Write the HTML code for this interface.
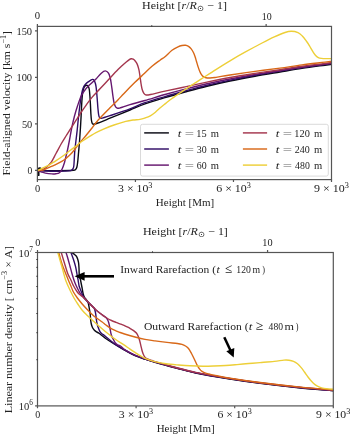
<!DOCTYPE html>
<html><head><meta charset="utf-8"><style>
html,body{margin:0;padding:0;background:#fff;width:350px;height:435px;overflow:hidden}
svg{display:block;font-family:"Liberation Serif",serif;will-change:transform}
</style></head><body>
<svg width="350" height="435" viewBox="0 0 350 435">
<rect width="350" height="435" fill="#fff"/>
<defs><clipPath id="ct"><rect x="37.4" y="26.4" width="294.1" height="153.2"/></clipPath><clipPath id="cb"><rect x="37.5" y="252.5" width="295.8" height="153.39999999999998"/></clipPath></defs>
<g clip-path="url(#ct)" fill="none" stroke-width="1.4" stroke-linejoin="round" stroke-linecap="round">
<path d="M38.7,175.2 L38.7,168.8 Q38.8,168.1 39.6,168.1 L40.6,168.4" stroke-width="1.7" stroke="#0a0a14"/>
<path d="M37.40,170.60 C40.33,170.60 49.57,170.62 55.00,170.60 C60.43,170.58 66.93,170.55 70.00,170.50 C73.07,170.45 72.47,170.48 73.40,170.30 C74.33,170.12 75.02,169.95 75.60,169.40 C76.18,168.85 76.53,168.40 76.90,167.00 C77.27,165.60 77.52,163.50 77.80,161.00 C78.08,158.50 78.33,155.00 78.60,152.00 C78.87,149.00 79.12,146.67 79.40,143.00 C79.68,139.33 80.02,134.43 80.30,130.00 C80.58,125.57 80.87,120.73 81.10,116.40 C81.33,112.07 81.47,107.73 81.70,104.00 C81.93,100.27 82.18,96.58 82.50,94.00 C82.82,91.42 83.18,89.83 83.60,88.50 C84.02,87.17 84.50,86.53 85.00,86.00 C85.50,85.47 86.05,85.25 86.60,85.30 C87.15,85.35 87.85,85.60 88.30,86.30 C88.75,87.00 89.03,87.88 89.30,89.50 C89.57,91.12 89.72,93.58 89.90,96.00 C90.08,98.42 90.23,101.00 90.40,104.00 C90.57,107.00 90.73,111.33 90.90,114.00 C91.07,116.67 91.18,118.47 91.40,120.00 C91.62,121.53 91.88,122.50 92.20,123.20 C92.52,123.90 92.33,124.23 93.30,124.20 C94.27,124.17 95.22,124.00 98.00,123.00 C100.78,122.00 104.67,120.37 110.00,118.20 C115.33,116.03 124.17,112.40 130.00,110.00 C135.83,107.60 139.17,105.87 145.00,103.80 C150.83,101.73 158.33,99.57 165.00,97.60 C171.67,95.63 178.00,93.90 185.00,92.00 C192.00,90.10 199.50,88.03 207.00,86.20 C214.50,84.37 222.00,82.67 230.00,81.00 C238.00,79.33 246.67,77.70 255.00,76.20 C263.33,74.70 272.17,73.30 280.00,72.00 C287.83,70.70 294.50,69.53 302.00,68.40 C309.50,67.27 318.67,66.07 325.00,65.20 C331.33,64.33 337.50,63.53 340.00,63.20" stroke="#0a0a14"/>
<path d="M37.40,170.60 C38.67,170.67 42.07,170.88 45.00,171.00 C47.93,171.12 51.67,171.28 55.00,171.30 C58.33,171.32 62.40,171.22 65.00,171.10 C67.60,170.98 69.33,170.92 70.60,170.60 C71.87,170.28 72.07,169.97 72.60,169.20 C73.13,168.43 73.45,168.87 73.80,166.00 C74.15,163.13 74.37,156.00 74.70,152.00 C75.03,148.00 75.38,145.67 75.80,142.00 C76.22,138.33 76.77,134.00 77.20,130.00 C77.63,126.00 77.97,122.00 78.40,118.00 C78.83,114.00 79.35,109.50 79.80,106.00 C80.25,102.50 80.67,99.58 81.10,97.00 C81.53,94.42 81.93,92.27 82.40,90.50 C82.87,88.73 83.32,87.52 83.90,86.40 C84.48,85.28 85.12,84.60 85.90,83.80 C86.68,83.00 87.50,82.33 88.60,81.60 C89.70,80.87 91.55,79.57 92.50,79.40 C93.45,79.23 93.82,79.92 94.30,80.60 C94.78,81.28 95.10,82.43 95.40,83.50 C95.70,84.57 95.87,85.25 96.10,87.00 C96.33,88.75 96.60,91.83 96.80,94.00 C97.00,96.17 97.12,97.67 97.30,100.00 C97.48,102.33 97.68,105.58 97.90,108.00 C98.12,110.42 98.33,112.92 98.60,114.50 C98.87,116.08 99.13,116.85 99.50,117.50 C99.87,118.15 100.22,118.35 100.80,118.40 C101.38,118.45 101.47,118.25 103.00,117.80 C104.53,117.35 105.50,117.18 110.00,115.70 C114.50,114.22 124.17,111.07 130.00,108.90 C135.83,106.73 139.17,104.75 145.00,102.70 C150.83,100.65 158.33,98.55 165.00,96.60 C171.67,94.65 178.00,92.90 185.00,91.00 C192.00,89.10 199.50,87.02 207.00,85.20 C214.50,83.38 222.00,81.77 230.00,80.10 C238.00,78.43 246.67,76.72 255.00,75.20 C263.33,73.68 272.17,72.28 280.00,71.00 C287.83,69.72 294.50,68.62 302.00,67.50 C309.50,66.38 318.67,65.17 325.00,64.30 C331.33,63.43 337.50,62.63 340.00,62.30" stroke="#300c66"/>
<path d="M37.40,170.60 C38.00,170.80 39.68,171.38 41.00,171.80 C42.32,172.22 43.48,172.75 45.30,173.10 C47.12,173.45 50.12,173.80 51.90,173.90 C53.68,174.00 54.75,173.90 56.00,173.70 C57.25,173.50 58.40,173.45 59.40,172.70 C60.40,171.95 61.15,170.90 62.00,169.20 C62.85,167.50 63.78,164.87 64.50,162.50 C65.22,160.13 65.80,157.08 66.30,155.00 C66.80,152.92 66.97,152.50 67.50,150.00 C68.03,147.50 68.80,143.67 69.50,140.00 C70.20,136.33 70.87,132.00 71.70,128.00 C72.53,124.00 73.53,119.67 74.50,116.00 C75.47,112.33 76.38,109.33 77.50,106.00 C78.62,102.67 79.95,98.67 81.20,96.00 C82.45,93.33 83.78,91.67 85.00,90.00 C86.22,88.33 87.33,87.20 88.50,86.00 C89.67,84.80 90.75,83.97 92.00,82.80 C93.25,81.63 94.45,80.60 96.00,79.00 C97.55,77.40 99.75,74.55 101.30,73.20 C102.85,71.85 104.10,70.90 105.30,70.90 C106.50,70.90 107.67,71.97 108.50,73.20 C109.33,74.43 109.83,76.50 110.30,78.30 C110.77,80.10 111.00,82.10 111.30,84.00 C111.60,85.90 111.82,87.62 112.10,89.70 C112.38,91.78 112.68,94.37 113.00,96.50 C113.32,98.63 113.60,100.83 114.00,102.50 C114.40,104.17 114.87,105.57 115.40,106.50 C115.93,107.43 116.52,107.83 117.20,108.10 C117.88,108.37 118.37,108.35 119.50,108.10 C120.63,107.85 122.25,107.18 124.00,106.60 C125.75,106.02 126.50,105.62 130.00,104.60 C133.50,103.58 139.17,102.18 145.00,100.50 C150.83,98.82 158.33,96.40 165.00,94.50 C171.67,92.60 178.00,90.90 185.00,89.10 C192.00,87.30 199.50,85.38 207.00,83.70 C214.50,82.02 222.00,80.53 230.00,79.00 C238.00,77.47 246.67,75.88 255.00,74.50 C263.33,73.12 272.17,71.90 280.00,70.70 C287.83,69.50 294.50,68.38 302.00,67.30 C309.50,66.22 318.67,65.05 325.00,64.20 C331.33,63.35 337.50,62.53 340.00,62.20" stroke="#66176f"/>
<path d="M37.40,170.60 C38.00,170.53 39.68,170.62 41.00,170.20 C42.32,169.78 43.62,169.40 45.30,168.10 C46.98,166.80 49.32,164.83 51.10,162.40 C52.88,159.97 54.28,156.65 56.00,153.50 C57.72,150.35 59.73,146.42 61.40,143.50 C63.07,140.58 64.57,138.30 66.00,136.00 C67.43,133.70 68.32,132.33 70.00,129.70 C71.68,127.07 74.27,123.07 76.10,120.20 C77.93,117.33 79.35,114.98 81.00,112.50 C82.65,110.02 84.17,107.82 86.00,105.30 C87.83,102.78 89.67,100.15 92.00,97.40 C94.33,94.65 97.00,92.03 100.00,88.80 C103.00,85.57 107.00,81.22 110.00,78.00 C113.00,74.78 116.00,71.55 118.00,69.50 C120.00,67.45 120.67,66.92 122.00,65.70 C123.33,64.48 124.83,63.18 126.00,62.20 C127.17,61.22 128.13,60.38 129.00,59.80 C129.87,59.22 130.50,58.80 131.20,58.70 C131.90,58.60 132.57,58.85 133.20,59.20 C133.83,59.55 134.33,59.98 135.00,60.80 C135.67,61.62 136.55,62.62 137.20,64.10 C137.85,65.58 138.43,67.67 138.90,69.70 C139.37,71.73 139.63,73.92 140.00,76.30 C140.37,78.68 140.73,81.80 141.10,84.00 C141.47,86.20 141.73,87.93 142.20,89.50 C142.67,91.07 143.25,92.48 143.90,93.40 C144.55,94.32 145.00,94.82 146.10,95.00 C147.20,95.18 147.35,95.15 150.50,94.50 C153.65,93.85 159.25,92.37 165.00,91.10 C170.75,89.83 178.00,88.40 185.00,86.90 C192.00,85.40 199.50,83.67 207.00,82.10 C214.50,80.53 222.00,78.95 230.00,77.50 C238.00,76.05 246.67,74.70 255.00,73.40 C263.33,72.10 272.17,70.88 280.00,69.70 C287.83,68.52 294.50,67.35 302.00,66.30 C309.50,65.25 318.67,64.22 325.00,63.40 C331.33,62.58 337.50,61.73 340.00,61.40" stroke="#a4364e"/>
<path d="M37.40,170.60 C38.33,170.50 41.00,170.55 43.00,170.00 C45.00,169.45 47.40,168.17 49.40,167.30 C51.40,166.43 52.93,165.78 55.00,164.80 C57.07,163.82 59.97,162.47 61.80,161.40 C63.63,160.33 64.58,159.53 66.00,158.40 C67.42,157.27 68.82,156.13 70.30,154.60 C71.78,153.07 73.23,151.28 74.90,149.20 C76.57,147.12 78.45,144.38 80.30,142.10 C82.15,139.82 84.22,137.63 86.00,135.50 C87.78,133.37 89.00,131.83 91.00,129.30 C93.00,126.77 94.83,123.88 98.00,120.30 C101.17,116.72 106.65,111.23 110.00,107.80 C113.35,104.37 115.77,102.10 118.10,99.70 C120.43,97.30 121.23,96.25 124.00,93.40 C126.77,90.55 131.37,85.87 134.70,82.60 C138.03,79.33 141.12,76.52 144.00,73.80 C146.88,71.08 149.33,68.57 152.00,66.30 C154.67,64.03 157.83,61.80 160.00,60.20 C162.17,58.60 163.00,58.35 165.00,56.70 C167.00,55.05 169.83,51.95 172.00,50.30 C174.17,48.65 176.33,47.60 178.00,46.80 C179.67,46.00 180.75,45.75 182.00,45.50 C183.25,45.25 184.42,45.17 185.50,45.30 C186.58,45.43 187.58,45.75 188.50,46.30 C189.42,46.85 190.20,47.60 191.00,48.60 C191.80,49.60 192.63,50.98 193.30,52.30 C193.97,53.62 194.47,54.97 195.00,56.50 C195.53,58.03 196.00,59.83 196.50,61.50 C197.00,63.17 197.48,64.92 198.00,66.50 C198.52,68.08 199.05,69.70 199.60,71.00 C200.15,72.30 200.68,73.37 201.30,74.30 C201.92,75.23 202.52,76.02 203.30,76.60 C204.08,77.18 204.88,77.57 206.00,77.80 C207.12,78.03 208.50,78.05 210.00,78.00 C211.50,77.95 213.33,77.73 215.00,77.50 C216.67,77.27 217.50,77.02 220.00,76.60 C222.50,76.18 224.17,75.87 230.00,75.00 C235.83,74.13 246.67,72.55 255.00,71.40 C263.33,70.25 272.17,69.18 280.00,68.10 C287.83,67.02 294.50,65.90 302.00,64.90 C309.50,63.90 318.67,62.88 325.00,62.10 C331.33,61.32 337.50,60.52 340.00,60.20" stroke="#d86818"/>
<path d="M37.40,170.60 C38.33,170.17 41.00,168.97 43.00,168.00 C45.00,167.03 47.40,165.92 49.40,164.80 C51.40,163.68 52.93,162.63 55.00,161.30 C57.07,159.97 59.28,158.60 61.80,156.80 C64.32,155.00 67.90,152.15 70.10,150.50 C72.30,148.85 73.35,148.18 75.00,146.90 C76.65,145.62 78.33,144.05 80.00,142.80 C81.67,141.55 83.33,140.50 85.00,139.40 C86.67,138.30 88.17,137.33 90.00,136.20 C91.83,135.07 93.85,133.73 96.00,132.60 C98.15,131.47 99.90,130.67 102.90,129.40 C105.90,128.13 110.20,126.33 114.00,125.00 C117.80,123.67 122.53,122.23 125.70,121.40 C128.87,120.57 130.62,120.33 133.00,120.00 C135.38,119.67 138.00,119.73 140.00,119.40 C142.00,119.07 143.28,118.60 145.00,118.00 C146.72,117.40 148.57,116.77 150.30,115.80 C152.03,114.83 153.68,113.58 155.40,112.20 C157.12,110.82 158.88,108.97 160.60,107.50 C162.32,106.03 163.98,104.77 165.70,103.40 C167.42,102.03 169.18,100.58 170.90,99.30 C172.62,98.02 172.65,97.98 176.00,95.70 C179.35,93.42 186.83,88.35 191.00,85.60 C195.17,82.85 196.92,81.83 201.00,79.20 C205.08,76.57 210.67,72.87 215.50,69.80 C220.33,66.73 225.08,63.73 230.00,60.80 C234.92,57.87 239.65,55.17 245.00,52.20 C250.35,49.23 257.22,45.55 262.10,43.00 C266.98,40.45 270.48,38.65 274.30,36.90 C278.12,35.15 282.17,33.43 285.00,32.50 C287.83,31.57 289.13,31.28 291.30,31.30 C293.47,31.32 296.17,31.82 298.00,32.60 C299.83,33.38 300.92,34.60 302.30,36.00 C303.68,37.40 305.10,39.37 306.30,41.00 C307.50,42.63 308.45,44.10 309.50,45.80 C310.55,47.50 311.62,49.62 312.60,51.20 C313.58,52.78 314.45,54.23 315.40,55.30 C316.35,56.37 317.28,57.08 318.30,57.60 C319.32,58.12 320.22,58.23 321.50,58.40 C322.78,58.57 322.92,58.57 326.00,58.60 C329.08,58.63 337.67,58.60 340.00,58.60" stroke="#edcf38"/>
</g>
<g clip-path="url(#cb)" fill="none" stroke-width="1.4" stroke-linejoin="round" stroke-linecap="round">
<path d="M68.80,247.00 C69.35,247.92 71.15,251.25 72.10,252.50 C73.05,253.75 73.77,253.85 74.50,254.50 C75.23,255.15 75.95,255.57 76.50,256.40 C77.05,257.23 77.45,258.40 77.80,259.50 C78.15,260.60 78.40,261.58 78.60,263.00 C78.80,264.42 78.90,266.17 79.00,268.00 C79.10,269.83 79.10,272.50 79.20,274.00 C79.30,275.50 79.38,276.00 79.60,277.00 C79.82,278.00 80.25,279.00 80.50,280.00 C80.75,281.00 80.90,282.00 81.10,283.00 C81.30,284.00 81.50,285.00 81.70,286.00 C81.90,287.00 82.12,288.00 82.30,289.00 C82.48,290.00 82.60,291.00 82.80,292.00 C83.00,293.00 83.20,294.07 83.50,295.00 C83.80,295.93 84.10,296.78 84.60,297.60 C85.10,298.42 86.02,299.25 86.50,299.90 C86.98,300.55 87.17,300.82 87.50,301.50 C87.83,302.18 88.20,302.83 88.50,304.00 C88.80,305.17 89.02,306.83 89.30,308.50 C89.58,310.17 89.98,312.17 90.20,314.00 C90.42,315.83 90.42,317.83 90.60,319.50 C90.78,321.17 90.97,322.62 91.30,324.00 C91.63,325.38 92.08,326.77 92.60,327.80 C93.12,328.83 93.75,329.53 94.40,330.20 C95.05,330.87 95.73,331.28 96.50,331.80 C97.27,332.32 97.58,332.27 99.00,333.30 C100.42,334.33 102.33,336.15 105.00,338.00 C107.67,339.85 111.67,342.35 115.00,344.40 C118.33,346.45 121.67,348.43 125.00,350.30 C128.33,352.17 131.67,354.12 135.00,355.60 C138.33,357.08 141.67,358.08 145.00,359.20 C148.33,360.32 150.35,360.95 155.00,362.30 C159.65,363.65 166.12,365.52 172.90,367.30 C179.68,369.08 186.18,371.05 195.70,373.00 C205.22,374.95 219.28,377.28 230.00,379.00 C240.72,380.72 248.58,381.85 260.00,383.30 C271.42,384.75 286.28,386.45 298.50,387.70 C310.72,388.95 325.55,390.08 333.30,390.80 C341.05,391.52 343.05,391.80 345.00,392.00" stroke="#0a0a14"/>
<path d="M68.50,247.00 C68.90,247.92 70.10,250.50 70.90,252.50 C71.70,254.50 72.53,256.70 73.30,259.00 C74.07,261.30 74.95,264.13 75.50,266.30 C76.05,268.47 76.27,270.22 76.60,272.00 C76.93,273.78 77.25,275.67 77.50,277.00 C77.75,278.33 77.92,279.00 78.10,280.00 C78.28,281.00 78.43,282.00 78.60,283.00 C78.77,284.00 78.83,285.00 79.10,286.00 C79.37,287.00 79.82,288.00 80.20,289.00 C80.58,290.00 81.00,291.00 81.40,292.00 C81.80,293.00 82.17,294.08 82.60,295.00 C83.03,295.92 83.27,296.52 84.00,297.50 C84.73,298.48 86.00,299.83 87.00,300.90 C88.00,301.97 89.00,302.88 90.00,303.90 C91.00,304.92 92.28,306.25 93.00,307.00 C93.72,307.75 93.92,307.60 94.30,308.40 C94.68,309.20 95.03,310.62 95.30,311.80 C95.57,312.98 95.70,314.05 95.90,315.50 C96.10,316.95 96.25,318.92 96.50,320.50 C96.75,322.08 97.02,323.58 97.40,325.00 C97.78,326.42 98.32,327.80 98.80,329.00 C99.28,330.20 99.68,331.32 100.30,332.20 C100.92,333.08 101.80,333.73 102.50,334.30 C103.20,334.87 102.42,333.95 104.50,335.60 C106.58,337.25 111.58,341.78 115.00,344.20 C118.42,346.62 121.67,348.23 125.00,350.10 C128.33,351.97 131.67,353.92 135.00,355.40 C138.33,356.88 141.67,357.88 145.00,359.00 C148.33,360.12 150.35,360.75 155.00,362.10 C159.65,363.45 166.12,365.32 172.90,367.10 C179.68,368.88 186.18,370.85 195.70,372.80 C205.22,374.75 219.28,377.08 230.00,378.80 C240.72,380.52 248.58,381.65 260.00,383.10 C271.42,384.55 286.28,386.25 298.50,387.50 C310.72,388.75 325.55,389.88 333.30,390.60 C341.05,391.32 343.05,391.60 345.00,391.80" stroke="#300c66"/>
<path d="M63.50,247.00 C63.92,247.92 65.25,250.50 66.00,252.50 C66.75,254.50 67.33,256.70 68.00,259.00 C68.67,261.30 69.32,263.80 70.00,266.30 C70.68,268.80 71.45,271.72 72.10,274.00 C72.75,276.28 73.20,278.00 73.90,280.00 C74.60,282.00 75.38,284.00 76.30,286.00 C77.22,288.00 78.52,290.47 79.40,292.00 C80.28,293.53 80.90,294.30 81.60,295.20 C82.30,296.10 82.70,296.45 83.60,297.40 C84.50,298.35 85.93,299.82 87.00,300.90 C88.07,301.98 89.00,302.88 90.00,303.90 C91.00,304.92 92.00,305.98 93.00,307.00 C94.00,308.02 94.88,309.00 96.00,310.00 C97.12,311.00 98.43,312.02 99.70,313.00 C100.97,313.98 102.55,315.13 103.60,315.90 C104.65,316.67 105.33,316.95 106.00,317.60 C106.67,318.25 107.13,318.90 107.60,319.80 C108.07,320.70 108.45,321.80 108.80,323.00 C109.15,324.20 109.42,325.63 109.70,327.00 C109.98,328.37 110.20,329.78 110.50,331.20 C110.80,332.62 111.02,334.12 111.50,335.50 C111.98,336.88 112.78,338.28 113.40,339.50 C114.02,340.72 114.52,341.92 115.20,342.80 C115.88,343.68 116.62,344.27 117.50,344.80 C118.38,345.33 119.25,345.15 120.50,346.00 C121.75,346.85 122.58,348.37 125.00,349.90 C127.42,351.43 131.67,353.72 135.00,355.20 C138.33,356.68 141.67,357.68 145.00,358.80 C148.33,359.92 150.35,360.55 155.00,361.90 C159.65,363.25 166.12,365.12 172.90,366.90 C179.68,368.68 186.18,370.65 195.70,372.60 C205.22,374.55 219.28,376.88 230.00,378.60 C240.72,380.32 248.58,381.45 260.00,382.90 C271.42,384.35 286.28,386.05 298.50,387.30 C310.72,388.55 325.55,389.68 333.30,390.40 C341.05,391.12 343.05,391.40 345.00,391.60" stroke="#66176f"/>
<path d="M58.90,247.00 C59.28,247.92 60.48,250.50 61.20,252.50 C61.92,254.50 62.50,256.70 63.20,259.00 C63.90,261.30 64.62,263.80 65.40,266.30 C66.18,268.80 66.98,271.72 67.90,274.00 C68.82,276.28 69.95,278.00 70.90,280.00 C71.85,282.00 72.53,284.00 73.60,286.00 C74.67,288.00 76.13,290.45 77.30,292.00 C78.47,293.55 79.62,294.42 80.60,295.30 C81.58,296.18 82.13,296.37 83.20,297.30 C84.27,298.23 85.87,299.80 87.00,300.90 C88.13,302.00 89.00,302.88 90.00,303.90 C91.00,304.92 92.00,305.98 93.00,307.00 C94.00,308.02 94.88,309.00 96.00,310.00 C97.12,311.00 98.43,312.02 99.70,313.00 C100.97,313.98 102.30,314.98 103.60,315.90 C104.90,316.82 106.18,317.73 107.50,318.50 C108.82,319.27 110.08,319.87 111.50,320.50 C112.92,321.13 114.58,321.75 116.00,322.30 C117.42,322.85 118.67,323.28 120.00,323.80 C121.33,324.32 122.70,324.83 124.00,325.40 C125.30,325.97 126.67,326.62 127.80,327.20 C128.93,327.78 129.83,328.33 130.80,328.90 C131.77,329.47 132.67,329.92 133.60,330.60 C134.53,331.28 135.62,332.02 136.40,333.00 C137.18,333.98 137.75,335.22 138.30,336.50 C138.85,337.78 139.28,339.22 139.70,340.70 C140.12,342.18 140.43,343.85 140.80,345.40 C141.17,346.95 141.52,348.60 141.90,350.00 C142.28,351.40 142.63,352.67 143.10,353.80 C143.57,354.93 144.10,356.00 144.70,356.80 C145.30,357.60 145.90,358.12 146.70,358.60 C147.50,359.08 148.62,359.38 149.50,359.70 C150.38,360.02 151.08,360.17 152.00,360.50 C152.92,360.83 151.52,360.67 155.00,361.70 C158.48,362.73 166.12,364.92 172.90,366.70 C179.68,368.48 186.18,370.45 195.70,372.40 C205.22,374.35 219.28,376.68 230.00,378.40 C240.72,380.12 248.58,381.25 260.00,382.70 C271.42,384.15 286.28,385.85 298.50,387.10 C310.72,388.35 325.55,389.48 333.30,390.20 C341.05,390.92 343.05,391.20 345.00,391.40" stroke="#a4364e"/>
<path d="M56.60,247.00 C56.95,247.92 58.03,250.42 58.70,252.50 C59.37,254.58 59.92,257.20 60.60,259.50 C61.28,261.80 61.98,264.05 62.80,266.30 C63.62,268.55 64.58,270.72 65.50,273.00 C66.42,275.28 67.40,277.83 68.30,280.00 C69.20,282.17 70.05,284.00 70.90,286.00 C71.75,288.00 72.32,290.00 73.40,292.00 C74.48,294.00 75.93,296.00 77.40,298.00 C78.87,300.00 80.48,302.00 82.20,304.00 C83.92,306.00 85.77,308.00 87.70,310.00 C89.63,312.00 92.08,314.50 93.80,316.00 C95.52,317.50 96.60,318.00 98.00,319.00 C99.40,320.00 100.87,321.00 102.20,322.00 C103.53,323.00 104.70,324.03 106.00,325.00 C107.30,325.97 108.50,326.90 110.00,327.80 C111.50,328.70 113.47,329.68 115.00,330.40 C116.53,331.12 117.62,331.50 119.20,332.10 C120.78,332.70 121.87,333.18 124.50,334.00 C127.13,334.82 131.58,336.10 135.00,337.00 C138.42,337.90 141.67,338.75 145.00,339.40 C148.33,340.05 151.33,340.40 155.00,340.90 C158.67,341.40 163.27,341.97 167.00,342.40 C170.73,342.83 174.90,343.17 177.40,343.50 C179.90,343.83 180.65,343.98 182.00,344.40 C183.35,344.82 184.42,345.32 185.50,346.00 C186.58,346.68 187.50,347.25 188.50,348.50 C189.50,349.75 190.48,351.63 191.50,353.50 C192.52,355.37 193.68,357.82 194.60,359.70 C195.52,361.58 196.18,363.28 197.00,364.80 C197.82,366.32 198.67,367.70 199.50,368.80 C200.33,369.90 201.08,370.72 202.00,371.40 C202.92,372.08 203.83,372.47 205.00,372.90 C206.17,373.33 207.50,373.63 209.00,374.00 C210.50,374.37 210.50,374.40 214.00,375.10 C217.50,375.80 222.33,376.97 230.00,378.20 C237.67,379.43 248.58,381.05 260.00,382.50 C271.42,383.95 286.28,385.65 298.50,386.90 C310.72,388.15 325.55,389.28 333.30,390.00 C341.05,390.72 343.05,391.00 345.00,391.20" stroke="#d86818"/>
<path d="M55.50,247.00 C55.88,247.92 57.08,250.42 57.80,252.50 C58.52,254.58 59.13,257.20 59.80,259.50 C60.47,261.80 61.17,264.05 61.80,266.30 C62.43,268.55 62.97,270.72 63.60,273.00 C64.23,275.28 64.85,277.83 65.60,280.00 C66.35,282.17 67.22,284.00 68.10,286.00 C68.98,288.00 69.92,290.00 70.90,292.00 C71.88,294.00 72.85,296.00 74.00,298.00 C75.15,300.00 76.47,302.00 77.80,304.00 C79.13,306.00 80.42,308.08 82.00,310.00 C83.58,311.92 85.60,313.83 87.30,315.50 C89.00,317.17 90.42,318.37 92.20,320.00 C93.98,321.63 95.87,323.43 98.00,325.30 C100.13,327.17 102.17,328.92 105.00,331.20 C107.83,333.48 111.90,336.75 115.00,339.00 C118.10,341.25 121.10,343.02 123.60,344.70 C126.10,346.38 128.10,347.82 130.00,349.10 C131.90,350.38 133.17,351.22 135.00,352.40 C136.83,353.58 139.00,355.07 141.00,356.20 C143.00,357.33 144.55,358.25 147.00,359.20 C149.45,360.15 152.53,361.13 155.70,361.90 C158.87,362.67 162.18,363.28 166.00,363.80 C169.82,364.32 174.60,364.67 178.60,365.00 C182.60,365.33 185.95,365.60 190.00,365.80 C194.05,366.00 198.90,366.17 202.90,366.20 C206.90,366.23 210.20,366.12 214.00,366.00 C217.80,365.88 221.87,365.73 225.70,365.50 C229.53,365.27 233.18,364.93 237.00,364.60 C240.82,364.27 244.77,363.83 248.60,363.50 C252.43,363.17 255.72,362.95 260.00,362.60 C264.28,362.25 270.30,361.82 274.30,361.40 C278.30,360.98 281.55,360.30 284.00,360.10 C286.45,359.90 287.42,360.00 289.00,360.20 C290.58,360.40 292.08,360.70 293.50,361.30 C294.92,361.90 296.25,362.78 297.50,363.80 C298.75,364.82 299.83,366.03 301.00,367.40 C302.17,368.77 303.33,370.40 304.50,372.00 C305.67,373.60 306.83,375.45 308.00,377.00 C309.17,378.55 310.33,380.03 311.50,381.30 C312.67,382.57 313.75,383.67 315.00,384.60 C316.25,385.53 317.50,386.27 319.00,386.90 C320.50,387.53 321.62,388.00 324.00,388.40 C326.38,388.80 329.80,389.12 333.30,389.30 C336.80,389.48 343.05,389.47 345.00,389.50" stroke="#edcf38"/>
</g>
<rect x="37.40" y="26.40" width="294.10" height="153.20" fill="none" stroke="#555" stroke-width="1.2"/>
<rect x="37.50" y="252.50" width="295.80" height="153.40" fill="none" stroke="#555" stroke-width="1.2"/>
<path d="M37.40,179.60v2.40 M135.43,179.60v2.40 M233.47,179.60v2.40 M331.50,179.60v2.40 M37.40,26.40v-2.40 M266.14,26.40v-2.40 M37.40,170.40h-2.40 M37.40,123.87h-2.40 M37.40,77.33h-2.40 M37.40,30.80h-2.40 M37.50,405.90v2.40 M136.10,405.90v2.40 M234.70,405.90v2.40 M333.30,405.90v2.40 M37.50,252.50v-2.40 M267.57,252.50v-2.40 M37.50,252.50h-2.40 M37.50,405.90h-2.40" stroke="#555" stroke-width="1.2" fill="none"/>
<path d="M151.77,26.40v-1.40 M152.53,252.50v-1.40 M37.50,359.72h-1.40 M37.50,332.71h-1.40 M37.50,313.54h-1.40 M37.50,298.68h-1.40 M37.50,286.53h-1.40 M37.50,276.26h-1.40 M37.50,267.37h-1.40 M37.50,259.52h-1.40" stroke="#000" stroke-width="0.6" fill="none"/>
<rect x="140.5" y="124.3" width="187.8" height="51.8" rx="2" ry="2" fill="#fff" fill-opacity="0.8" stroke="#d0d0d0" stroke-width="0.8"/>
<path d="M144.2,132.9 H168.9" stroke="#0a0a14" stroke-width="1.45"/>
<path d="M144.2,149.0 H168.9" stroke="#300c66" stroke-width="1.45"/>
<path d="M144.2,165.1 H168.9" stroke="#66176f" stroke-width="1.45"/>
<path d="M242.9,132.9 H267.1" stroke="#a4364e" stroke-width="1.45"/>
<path d="M242.9,149.0 H267.1" stroke="#d86818" stroke-width="1.45"/>
<path d="M242.9,165.1 H267.1" stroke="#edcf38" stroke-width="1.45"/>
<g font-family="Liberation Serif, serif" fill="#222" opacity="0.995">
<text x="142.03" y="8.90" font-size="11.4" textLength="84.94" lengthAdjust="spacingAndGlyphs">Height [<tspan font-style="italic">r</tspan>/<tspan font-style="italic">R</tspan><tspan dy="2.2" font-size="7.9">⊙</tspan><tspan dy="-2.2"> − 1]</tspan></text>
<text x="34.87" y="19.40" font-size="11.4" textLength="5.35" lengthAdjust="spacingAndGlyphs">0</text>
<text x="261.68" y="19.50" font-size="11.4" textLength="9.92" lengthAdjust="spacingAndGlyphs">10</text>
<text x="16.43" y="35.00" font-size="11.4" textLength="15.68" lengthAdjust="spacingAndGlyphs">150</text>
<text x="16.43" y="81.30" font-size="11.4" textLength="15.68" lengthAdjust="spacingAndGlyphs">100</text>
<text x="21.91" y="127.80" font-size="11.4" textLength="10.40" lengthAdjust="spacingAndGlyphs">50</text>
<text x="27.52" y="174.10" font-size="11.4" textLength="4.77" lengthAdjust="spacingAndGlyphs">0</text>
<text x="34.98" y="192.30" font-size="11.4" textLength="5.23" lengthAdjust="spacingAndGlyphs">0</text>
<text x="118.13" y="192.20" font-size="11.4" textLength="34.31" lengthAdjust="spacingAndGlyphs">3 × 10<tspan dy="-4.4" font-size="7.9">3</tspan></text>
<text x="216.23" y="192.20" font-size="11.4" textLength="34.72" lengthAdjust="spacingAndGlyphs">6 × 10<tspan dy="-4.4" font-size="7.9">3</tspan></text>
<text x="314.13" y="192.20" font-size="11.4" textLength="34.81" lengthAdjust="spacingAndGlyphs">9 × 10<tspan dy="-4.4" font-size="7.9">3</tspan></text>
<text x="155.86" y="205.90" font-size="11.4" textLength="58.23" lengthAdjust="spacingAndGlyphs">Height [Mm]</text>
<text x="142.93" y="235.00" font-size="11.4" textLength="84.94" lengthAdjust="spacingAndGlyphs">Height [<tspan font-style="italic">r</tspan>/<tspan font-style="italic">R</tspan><tspan dy="2.2" font-size="7.9">⊙</tspan><tspan dy="-2.2"> − 1]</tspan></text>
<text x="35.19" y="246.00" font-size="11.4" textLength="5.12" lengthAdjust="spacingAndGlyphs">0</text>
<text x="262.35" y="246.00" font-size="11.4" textLength="10.26" lengthAdjust="spacingAndGlyphs">10</text>
<text x="18.61" y="256.80" font-size="11.4" textLength="14.48" lengthAdjust="spacingAndGlyphs">10<tspan dy="-4.6" font-size="7.9">7</tspan></text>
<text x="18.63" y="409.90" font-size="11.4" textLength="14.15" lengthAdjust="spacingAndGlyphs">10<tspan dy="-4.6" font-size="7.9">6</tspan></text>
<text x="35.20" y="418.40" font-size="11.4" textLength="5.00" lengthAdjust="spacingAndGlyphs">0</text>
<text x="118.83" y="418.30" font-size="11.4" textLength="34.31" lengthAdjust="spacingAndGlyphs">3 × 10<tspan dy="-4.4" font-size="7.9">3</tspan></text>
<text x="217.43" y="418.30" font-size="11.4" textLength="34.31" lengthAdjust="spacingAndGlyphs">6 × 10<tspan dy="-4.4" font-size="7.9">3</tspan></text>
<text x="316.14" y="418.30" font-size="11.4" textLength="34.20" lengthAdjust="spacingAndGlyphs">9 × 10<tspan dy="-4.4" font-size="7.9">3</tspan></text>
<text x="156.66" y="432.30" font-size="11.4" textLength="58.13" lengthAdjust="spacingAndGlyphs">Height [Mm]</text>
<text x="120.25" y="272.90" font-size="11.4" textLength="95.76" lengthAdjust="spacingAndGlyphs">Inward Rarefaction (</text>
<text x="216.43" y="272.90" font-size="11.4" textLength="3.28" lengthAdjust="spacingAndGlyphs"><tspan font-style="italic">t</tspan></text>
<text x="224.97" y="273.30" font-size="13.5" textLength="7.17" lengthAdjust="spacingAndGlyphs">≤</text>
<text x="236.30" y="272.90" font-size="11.4" textLength="14.59" lengthAdjust="spacingAndGlyphs">120</text>
<text x="252.48" y="272.90" font-size="11.4" textLength="7.62" lengthAdjust="spacingAndGlyphs">m</text>
<text x="262.26" y="272.90" font-size="11.4" textLength="2.75" lengthAdjust="spacingAndGlyphs">)</text>
<text x="143.94" y="329.60" font-size="11.4" textLength="104.67" lengthAdjust="spacingAndGlyphs">Outward Rarefaction (</text>
<text x="248.78" y="329.60" font-size="11.4" textLength="3.61" lengthAdjust="spacingAndGlyphs"><tspan font-style="italic">t</tspan></text>
<text x="255.75" y="330.00" font-size="13.5" textLength="7.41" lengthAdjust="spacingAndGlyphs">≥</text>
<text x="268.58" y="329.60" font-size="11.4" textLength="14.41" lengthAdjust="spacingAndGlyphs">480</text>
<text x="284.54" y="329.60" font-size="11.4" textLength="9.49" lengthAdjust="spacingAndGlyphs">m</text>
<text x="295.66" y="329.60" font-size="11.4" textLength="2.75" lengthAdjust="spacingAndGlyphs">)</text>
<text x="177.68" y="137.10" font-size="11.4" textLength="3.61" lengthAdjust="spacingAndGlyphs"><tspan font-style="italic">t</tspan></text>
<text x="184.68" y="137.10" font-size="11.4" textLength="9.34" lengthAdjust="spacingAndGlyphs" fill="#666">=</text>
<text x="196.34" y="137.10" font-size="11.4" textLength="10.37" lengthAdjust="spacingAndGlyphs">15</text>
<text x="210.86" y="137.10" font-size="11.4" textLength="8.24" lengthAdjust="spacingAndGlyphs">m</text>
<text x="177.68" y="153.20" font-size="11.4" textLength="3.61" lengthAdjust="spacingAndGlyphs"><tspan font-style="italic">t</tspan></text>
<text x="184.68" y="153.20" font-size="11.4" textLength="9.34" lengthAdjust="spacingAndGlyphs" fill="#666">=</text>
<text x="196.82" y="153.20" font-size="11.4" textLength="9.88" lengthAdjust="spacingAndGlyphs">30</text>
<text x="210.86" y="153.20" font-size="11.4" textLength="8.24" lengthAdjust="spacingAndGlyphs">m</text>
<text x="177.68" y="169.30" font-size="11.4" textLength="3.61" lengthAdjust="spacingAndGlyphs"><tspan font-style="italic">t</tspan></text>
<text x="184.68" y="169.30" font-size="11.4" textLength="9.34" lengthAdjust="spacingAndGlyphs" fill="#666">=</text>
<text x="196.82" y="169.30" font-size="11.4" textLength="9.88" lengthAdjust="spacingAndGlyphs">60</text>
<text x="210.86" y="169.30" font-size="11.4" textLength="8.24" lengthAdjust="spacingAndGlyphs">m</text>
<text x="275.68" y="137.10" font-size="11.4" textLength="3.61" lengthAdjust="spacingAndGlyphs"><tspan font-style="italic">t</tspan></text>
<text x="282.68" y="137.10" font-size="11.4" textLength="9.34" lengthAdjust="spacingAndGlyphs" fill="#666">=</text>
<text x="294.35" y="137.10" font-size="11.4" textLength="15.47" lengthAdjust="spacingAndGlyphs">120</text>
<text x="313.96" y="137.10" font-size="11.4" textLength="8.24" lengthAdjust="spacingAndGlyphs">m</text>
<text x="275.68" y="153.20" font-size="11.4" textLength="3.61" lengthAdjust="spacingAndGlyphs"><tspan font-style="italic">t</tspan></text>
<text x="282.68" y="153.20" font-size="11.4" textLength="9.34" lengthAdjust="spacingAndGlyphs" fill="#666">=</text>
<text x="294.81" y="153.20" font-size="11.4" textLength="14.99" lengthAdjust="spacingAndGlyphs">240</text>
<text x="313.96" y="153.20" font-size="11.4" textLength="8.24" lengthAdjust="spacingAndGlyphs">m</text>
<text x="275.68" y="169.30" font-size="11.4" textLength="3.61" lengthAdjust="spacingAndGlyphs"><tspan font-style="italic">t</tspan></text>
<text x="282.68" y="169.30" font-size="11.4" textLength="9.34" lengthAdjust="spacingAndGlyphs" fill="#666">=</text>
<text x="295.08" y="169.30" font-size="11.4" textLength="14.72" lengthAdjust="spacingAndGlyphs">480</text>
<text x="313.96" y="169.30" font-size="11.4" textLength="8.24" lengthAdjust="spacingAndGlyphs">m</text>
<text transform="translate(10.00,175.20) rotate(-90)" x="-0.31" y="0" font-size="11.4" textLength="144.39" lengthAdjust="spacingAndGlyphs">Field-aligned velocity [km s<tspan dy="-4.3" font-size="7.9">−1</tspan><tspan dy="4.3">]</tspan></text>
<text transform="translate(11.50,413.00) rotate(-90)" x="-0.32" y="0" font-size="11.4" textLength="167.43" lengthAdjust="spacingAndGlyphs">Linear number density [ cm<tspan dy="-4.3" font-size="7.9">−3</tspan><tspan dy="4.3"> × A]</tspan></text>
</g>
<path d="M114,276.3 L83,276.3" stroke="#000" stroke-width="2.6" fill="none"/>
<path d="M74.6,276.3 L84.6,271.9 L84.6,280.7 Z" fill="#000"/>
<path d="M224.3,337.2 L230.6,350.8" stroke="#000" stroke-width="2.5" fill="none"/>
<path d="M233.7,357.6 L226.3,351.3 L234.3,348.0 Z" fill="#000"/>
</svg>
</body></html>
